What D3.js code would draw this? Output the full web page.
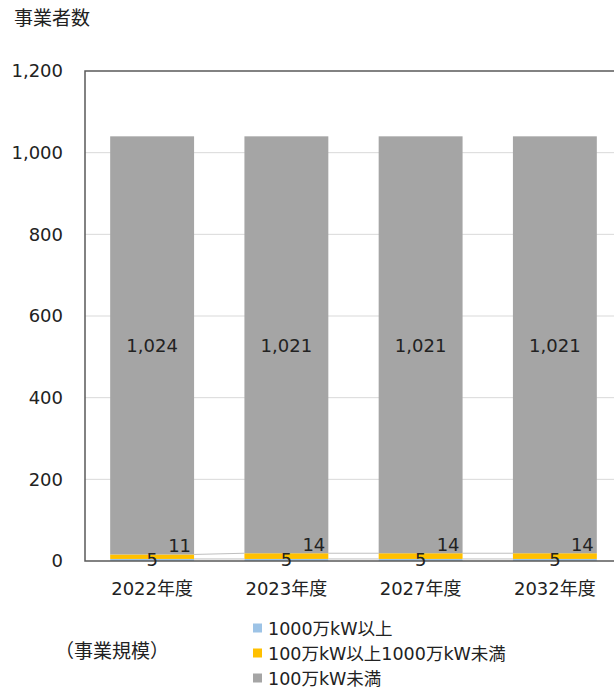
<!DOCTYPE html>
<html>
<head>
<meta charset="utf-8">
<script src="https://cdn.jsdelivr.net/npm/d3@7"></script>
<style>
  body { margin: 0; background: #fff; }
  text { font-family: "DejaVu Sans", "Noto Sans CJK JP", sans-serif; fill: #222; }
</style>
</head>
<body>
<svg id="chart" width="614" height="688"></svg>
<script>
// chart values
var years = ["2022年度", "2023年度", "2027年度", "2032年度"];
var large = [5, 5, 5, 5];              // 1000万kW以上
var middle = [11, 14, 14, 14];         // 100万kW以上1000万kW未満
var small = [1024, 1021, 1021, 1021];  // 100万kW未満
var seriesNames = ["1000万kW以上", "100万kW以上1000万kW未満", "100万kW未満"];
var yTicks = [0, 200, 400, 600, 800, 1000, 1200];

var colors = ["#9dc3e6", "#ffc000", "#a5a5a5"];
var fs = 18;

var svg = d3.select("#chart");
var margin = {left: 85, top: 71, right: -8, bottom: 127};
var width = 614 - margin.left - margin.right,
    height = 688 - margin.top - margin.bottom;

var g = svg.append("g")
    .attr("transform", "translate(" + margin.left + "," + margin.top + ")");

var x = d3.scaleBand().domain(years).range([0, width]).paddingInner(0.375).paddingOuter(0.1875);
var y = d3.scaleLinear().domain([0, 1200]).range([height, 0]);

// gridlines
g.selectAll(".grid")
    .data(yTicks.slice(1, -1))
    .enter().append("line")
    .attr("x1", 0).attr("x2", width)
    .attr("y1", function(d) { return y(d); })
    .attr("y2", function(d) { return y(d); })
    .attr("stroke", "#d9d9d9").attr("stroke-width", 1);

// stack the three series
var rows = years.map(function(yr, i) {
  return {year: yr, a: large[i], b: middle[i], c: small[i]};
});
var stack = d3.stack().keys(["a", "b", "c"])(rows);

// series lines between bars
stack.slice(0, 2).forEach(function(s) {
  for (var i = 0; i < years.length - 1; i++) {
    g.append("line")
        .attr("x1", x(years[i]) + x.bandwidth())
        .attr("x2", x(years[i + 1]))
        .attr("y1", y(s[i][1]))
        .attr("y2", y(s[i + 1][1]))
        .attr("stroke", "#bfbfbf").attr("stroke-width", 1);
  }
});

g.selectAll(".series")
    .data(stack)
    .enter().append("g")
    .attr("fill", function(d, i) { return colors[i]; })
    .selectAll("rect")
    .data(function(d) { return d; })
    .enter().append("rect")
    .attr("x", function(d) { return x(d.data.year); })
    .attr("width", x.bandwidth())
    .attr("y", function(d) { return y(d[1]); })
    .attr("height", function(d) { return y(d[0]) - y(d[1]); });

// frame
g.append("rect")
    .attr("width", width).attr("height", height)
    .attr("fill", "none").attr("stroke", "#595959").attr("stroke-width", 1.5);

// data labels
g.selectAll(".lblA")
    .data(stack[0])
    .enter().append("text")
    .attr("x", function(d) { return x(d.data.year) + x.bandwidth() / 2; })
    .attr("y", function(d) { return y(d[1]) + 7; })
    .attr("text-anchor", "middle")
    .attr("font-size", fs)
    .text(function(d) { return d[1] - d[0]; });

g.selectAll(".lblB")
    .data(stack[1])
    .enter().append("text")
    .attr("x", function(d) { return x(d.data.year) + x.bandwidth() - 3; })
    .attr("y", function(d) { return y(d[1]) - 2; })
    .attr("text-anchor", "end")
    .attr("font-size", fs)
    .text(function(d) { return d[1] - d[0]; });

g.selectAll(".lblC")
    .data(stack[2])
    .enter().append("text")
    .attr("x", function(d) { return x(d.data.year) + x.bandwidth() / 2; })
    .attr("y", function(d) { return y((d[0] + d[1]) / 2) + 7; })
    .attr("text-anchor", "middle")
    .attr("font-size", fs)
    .text(function(d) { return d3.format(",")(d[1] - d[0]); });

// axes
var yAxis = g.append("g")
    .call(d3.axisLeft(y).tickValues(yTicks).tickFormat(d3.format(",")).tickSize(0).tickPadding(22));
yAxis.select(".domain").remove();
yAxis.selectAll("text").attr("font-size", fs).attr("fill", "#222");

var xAxis = g.append("g")
    .attr("transform", "translate(0," + height + ")")
    .call(d3.axisBottom(x).tickSize(0).tickPadding(21));
xAxis.select(".domain").remove();
xAxis.selectAll("text").attr("font-size", fs).attr("fill", "#222");

// titles
svg.append("text").attr("x", 14).attr("y", 25).attr("font-size", 19).text("事業者数");
svg.append("text").attr("x", 55).attr("y", 658).attr("font-size", 19).text("（事業規模）");

// legend
var legend = svg.selectAll(".legend")
    .data(seriesNames)
    .enter().append("g")
    .attr("transform", function(d, i) { return "translate(253," + (628 + i * 25) + ")"; });
legend.append("rect")
    .attr("x", 0).attr("y", -4.5).attr("width", 9).attr("height", 9)
    .attr("fill", function(d, i) { return colors[i]; });
legend.append("text")
    .attr("x", 15).attr("y", 6.5)
    .attr("font-size", 17.5)
    .text(function(d) { return d; });
</script>
</body>
</html>
